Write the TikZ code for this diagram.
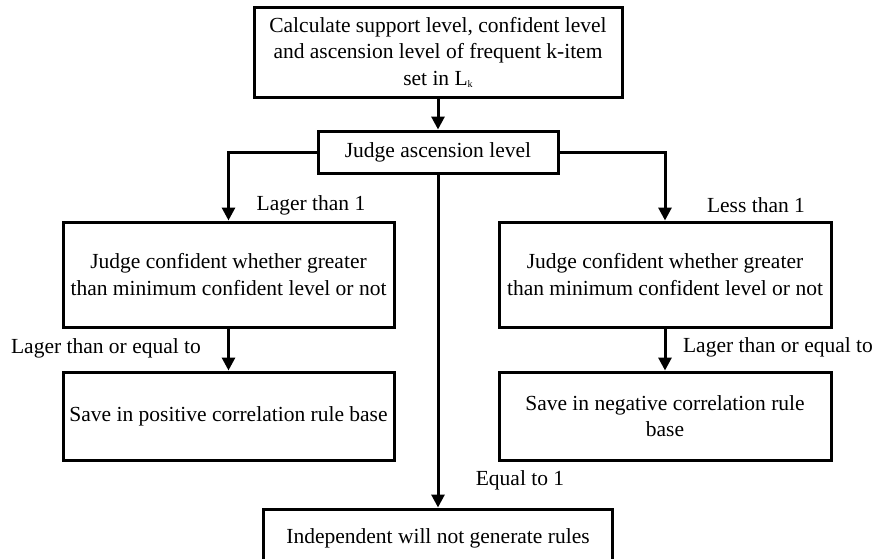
\documentclass[tikz,border=0pt]{standalone}
\usepackage{fontspec}
\setmainfont{Liberation Serif}
\usetikzlibrary{arrows.meta}
\begin{document}
\begin{tikzpicture}[x=1pt,y=1pt,
  box/.style={draw=black, line width=3pt, fill=white, inner sep=0pt, align=center,
    font=\fontsize{21.5}{26.7}\selectfont},
  lbl/.style={inner sep=0pt, font=\fontsize{21.5}{26.7}\selectfont},
  conn/.style={line width=3pt},
  arr/.style={conn, -{Triangle[length=13pt,width=13pt]}}]
\useasboundingbox (0,0) rectangle (876,-558);
\node[box, minimum width=368pt, minimum height=90pt] (calc) at (438,-52)
  {Calculate support level, confident level\\and ascension level of frequent k-item\\set in L\raisebox{-0.15ex}{\fontsize{10}{10}\selectfont k}};
\node[box, minimum width=240pt, minimum height=42pt] (judge) at (438,-152) {Judge ascension level};
\node[box, minimum width=331pt, minimum height=105pt] (ljudge) at (228.5,-274.5)
  {Judge confident whether greater\\than minimum confident level or not};
\node[box, minimum width=332pt, minimum height=105pt] (rjudge) at (665,-274.5)
  {Judge confident whether greater\\than minimum confident level or not};
\node[box, minimum width=331pt, minimum height=88pt] (lsave) at (228.5,-416)
  {Save in positive correlation rule base};
\node[box, minimum width=332pt, minimum height=88pt] (rsave) at (665,-416)
  {Save in negative correlation rule\\base};
\node[box, minimum width=349pt, minimum height=58pt] (indep) at (438,-538)
  {\raisebox{3.5pt}{Independent will not generate rules}};
\draw[arr] (calc.south) -- (judge.north);
\draw[arr] (judge.west) -| (ljudge.north);
\draw[arr] (judge.east) -| (rjudge.north);
\draw[arr] (judge.south) -- (indep.north);
\draw[arr] (ljudge.south) -- (lsave.north);
\draw[arr] (rjudge.south) -- (rsave.north);
\node[lbl] (l1) at (311,-205) {Lager than 1};
\node[lbl] (l2) at (756,-205) {Less than 1};
\node[lbl] (l3) at (106,-348) {Lager than or equal to};
\node[lbl] (l4) at (778,-347) {Lager than or equal to};
\node[lbl] (l5) at (520,-480) {Equal to 1};
\end{tikzpicture}
\end{document}
